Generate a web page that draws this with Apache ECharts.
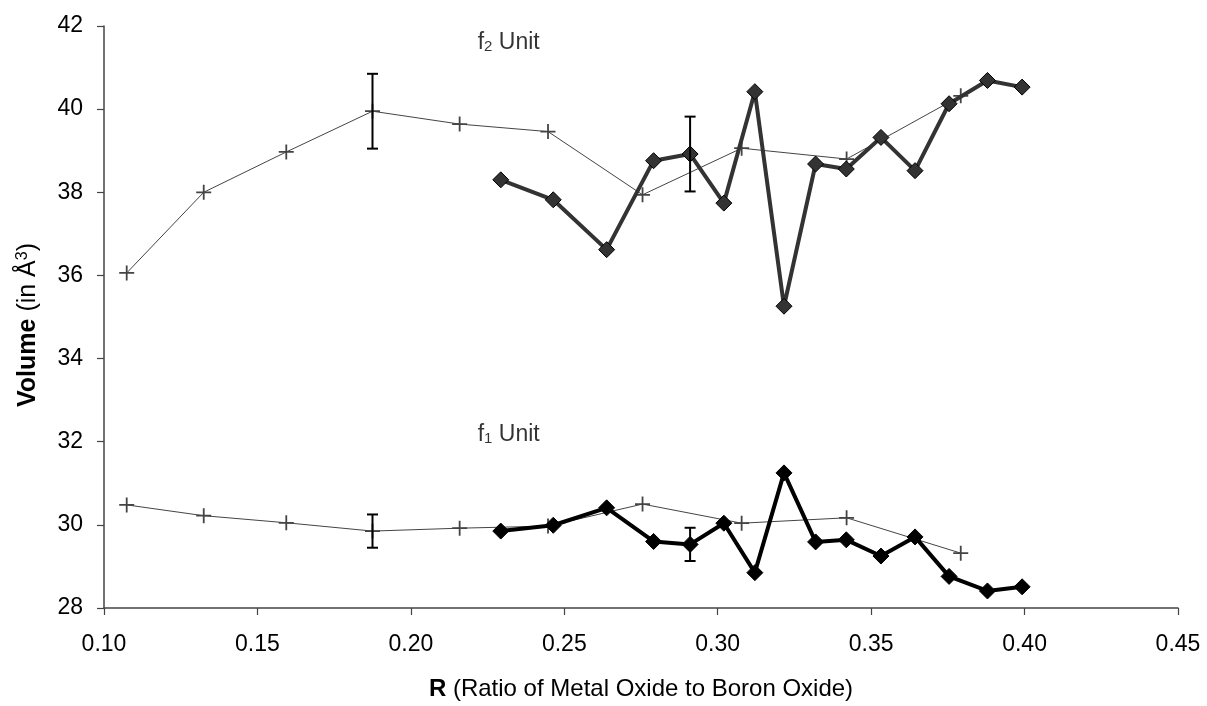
<!DOCTYPE html>
<html>
<head>
<meta charset="utf-8">
<title>Volume vs R</title>
<script src="https://cdn.jsdelivr.net/npm/echarts@6.0.0/dist/echarts.min.js"></script>
<style>
    html, body { margin: 0; padding: 0; background: #fff; }
    #main { width: 1207px; height: 706px; }
</style>
</head>
<body>
<div id="main"></div>
<script>
// x positions (R) of the "+" series and of the diamond series
var crossR = [0.1074, 0.1325, 0.1594, 0.1875, 0.2159, 0.2447, 0.2755, 0.3078, 0.3420, 0.3792];
var f2Cross = [36.06, 38.00, 38.97, 39.95, 39.64, 39.46, 37.94, 39.06, 38.80, 40.32];
var f1Cross = [30.48, 30.22, 30.05, 29.85, 29.92, 29.97, 30.50, 30.04, 30.17, 29.32];

var diamondR = [0.2293, 0.2464, 0.2638, 0.2791, 0.2910, 0.3020, 0.3121, 0.3216, 0.3319, 0.3419, 0.3532, 0.3643, 0.3754, 0.3879, 0.3992];
var f2Diamond = [38.30, 37.82, 36.62, 38.76, 38.92, 37.74, 40.42, 35.26, 38.68, 38.56, 39.32, 38.52, 40.13, 40.69, 40.53];
var f1Diamond = [29.85, 29.99, 30.41, 29.60, 29.53, 30.04, 28.85, 31.25, 29.59, 29.64, 29.25, 29.71, 28.76, 28.41, 28.51];

// error bars: x, centre, half-length
var errR = [0.1875, 0.2910, 0.1875, 0.2910];
var errV = [39.95, 38.92, 29.85, 29.53];
var errD = [0.9, 0.9, 0.4, 0.4];

// unit labels (anchored at data coordinates)
var unitR = [0.2319, 0.2319];
var unitV = [41.59, 32.16];
var unitSub = ['2', '1'];

var xTicks = { min: 0.10, max: 0.45, interval: 0.05 };
var yTicks = { min: 28, max: 42, interval: 2 };

function zip(xs, ys) {
    var out = [];
    for (var i = 0; i < xs.length; i++) {
        out.push([xs[i], ys[i]]);
    }
    return out;
}

var FONT = "'Liberation Sans', Arial, sans-serif";
var plusPath = 'path://M0,4.4H10V5.6H0Z M4.4,0H5.6V10H4.4Z';

var errData = [];
for (var i = 0; i < errR.length; i++) {
    errData.push([errR[i], errV[i] - errD[i], errV[i] + errD[i]]);
}

var unitData = [];
for (var j = 0; j < unitR.length; j++) {
    unitData.push([unitR[j], unitV[j], unitSub[j]]);
}

var chart = echarts.init(document.getElementById('main'));

var option = {
    backgroundColor: '#fff',
    animation: false,
    textStyle: { fontFamily: FONT },
    grid: {
        left: 104,
        right: 29,
        top: 26,
        bottom: 96,
        containLabel: false
    },
    xAxis: {
        type: 'value',
        min: xTicks.min,
        max: xTicks.max,
        interval: xTicks.interval,
        name: '{b|R} (Ratio of Metal Oxide to Boron Oxide)',
        nameLocation: 'middle',
        nameGap: 69,
        nameTextStyle: {
            fontFamily: FONT,
            fontSize: 24,
            color: '#000',
            rich: {
                b: { fontFamily: FONT, fontSize: 24, fontWeight: 'bold', color: '#000' }
            }
        },
        axisLine: { lineStyle: { color: '#444', width: 1.5 } },
        axisTick: { inside: false, length: 7, lineStyle: { color: '#444', width: 1.2 } },
        axisLabel: {
            margin: 25,
            fontSize: 23,
            color: '#000',
            fontFamily: FONT,
            formatter: function (v) { return v.toFixed(2); }
        },
        splitLine: { show: false }
    },
    yAxis: {
        type: 'value',
        min: yTicks.min,
        max: yTicks.max,
        interval: yTicks.interval,
        name: '{b|Volume} (in Å{sup|3})',
        nameLocation: 'middle',
        nameRotate: 90,
        nameGap: 63,
        nameTextStyle: {
            fontFamily: FONT,
            fontSize: 25,
            color: '#000',
            padding: [0, 16, 0, 0],
            rich: {
                b: { fontFamily: FONT, fontSize: 25, fontWeight: 'bold', color: '#000' },
                sup: { fontFamily: FONT, fontSize: 16, color: '#000', verticalAlign: 'top', padding: [0, 0, 10, 0] }
            }
        },
        axisLine: { show: true, lineStyle: { color: '#444', width: 1.5 } },
        axisTick: { show: true, inside: false, length: 7, lineStyle: { color: '#444', width: 1.2 } },
        axisLabel: {
            margin: 21,
            fontSize: 23,
            color: '#000',
            fontFamily: FONT
        },
        splitLine: { show: false }
    },
    series: [
        {
            name: 'f2 cross',
            type: 'line',
            data: zip(crossR, f2Cross),
            symbol: plusPath,
            symbolSize: 15,
            lineStyle: { color: '#444', width: 1 },
            itemStyle: { color: '#444' },
            z: 2
        },
        {
            name: 'f1 cross',
            type: 'line',
            data: zip(crossR, f1Cross),
            symbol: plusPath,
            symbolSize: 15,
            lineStyle: { color: '#444', width: 1 },
            itemStyle: { color: '#444' },
            z: 2
        },
        {
            name: 'f2 diamond',
            type: 'line',
            data: zip(diamondR, f2Diamond),
            symbol: 'diamond',
            symbolSize: 16,
            lineStyle: { color: '#333', width: 4 },
            itemStyle: { color: '#333', borderColor: '#000', borderWidth: 1 },
            z: 4
        },
        {
            name: 'f1 diamond',
            type: 'line',
            data: zip(diamondR, f1Diamond),
            symbol: 'diamond',
            symbolSize: 16,
            lineStyle: { color: '#000', width: 4 },
            itemStyle: { color: '#000', borderColor: '#000', borderWidth: 1 },
            z: 4
        },
        {
            name: 'error bars',
            type: 'custom',
            data: errData,
            z: 6,
            renderItem: function (params, api) {
                var x = api.value(0);
                var lo = api.coord([x, api.value(1)]);
                var hi = api.coord([x, api.value(2)]);
                var w = 5.5;
                var style = { stroke: '#000', lineWidth: 2 };
                return {
                    type: 'group',
                    children: [
                        { type: 'line', shape: { x1: lo[0], y1: lo[1], x2: hi[0], y2: hi[1] }, style: style },
                        { type: 'line', shape: { x1: lo[0] - w, y1: lo[1], x2: lo[0] + w, y2: lo[1] }, style: style },
                        { type: 'line', shape: { x1: hi[0] - w, y1: hi[1], x2: hi[0] + w, y2: hi[1] }, style: style }
                    ]
                };
            }
        },
        {
            name: 'units',
            type: 'scatter',
            data: unitData,
            symbolSize: 0,
            silent: true,
            z: 7,
            label: {
                show: true,
                position: 'inside',
                formatter: function (p) {
                    return '{n|f}{s|' + p.value[2] + '}{n| Unit}';
                },
                rich: {
                    n: { fontFamily: FONT, fontSize: 23, color: '#000' },
                    s: { fontFamily: FONT, fontSize: 15, color: '#000', verticalAlign: 'bottom', padding: [8, 0, 0, 0] }
                }
            }
        }
    ]
};

chart.setOption(option);
</script>
</body>
</html>
